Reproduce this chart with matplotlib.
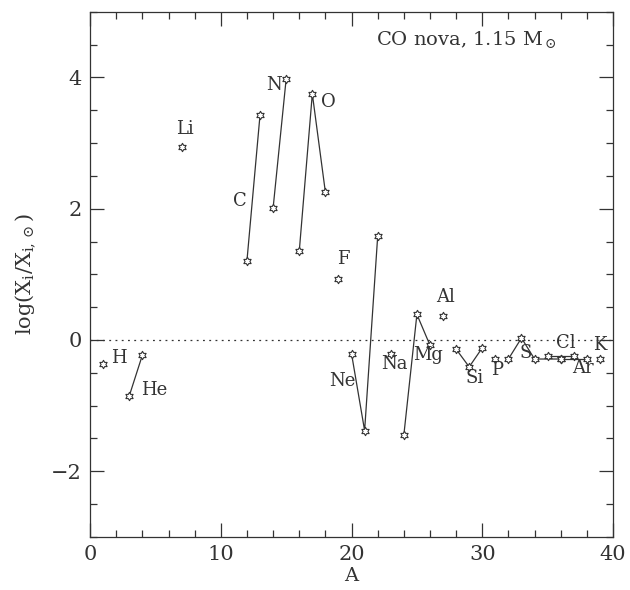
import numpy as np
import matplotlib
matplotlib.use("Agg")
import matplotlib.pyplot as plt
from matplotlib.path import Path

# ---- data (mass number A, log(X_i/X_i,sun)) ----
elements = ["H", "He", "Li", "C", "N", "O", "F", "Ne", "Na", "Mg", "Al",
            "Si", "P", "S", "Cl", "Ar", "K"]
iso_A = {
    "H": [1], "He": [3, 4], "Li": [7], "C": [12, 13], "N": [14, 15],
    "O": [16, 17, 18], "F": [19], "Ne": [20, 21, 22], "Na": [23],
    "Mg": [24, 25, 26], "Al": [27], "Si": [28, 29, 30], "P": [31],
    "S": [32, 33, 34, 36], "Cl": [35, 37], "Ar": [36, 38], "K": [39],
}
iso_val = {
    "H": [-0.37], "He": [-0.85, -0.23], "Li": [2.94], "C": [1.21, 3.43],
    "N": [2.01, 3.98], "O": [1.35, 3.75, 2.25], "F": [0.93],
    "Ne": [-0.21, -1.38, 1.58], "Na": [-0.21], "Mg": [-1.45, 0.39, -0.08],
    "Al": [0.37], "Si": [-0.14, -0.41, -0.12], "P": [-0.29],
    "S": [-0.29, 0.03, -0.29, -0.29], "Cl": [-0.24, -0.24],
    "Ar": [-0.29, -0.29], "K": [-0.29],
}
# label positions (A, y)
label_pos = {
    "H": (2.2, -0.27), "He": (4.9, -0.76), "Li": (7.25, 3.22), "C": (11.45, 2.12),
    "N": (14.05, 3.89), "O": (18.24, 3.63), "F": (19.4, 1.24), "Ne": (19.3, -0.63),
    "Na": (23.3, -0.36), "Mg": (25.85, -0.23), "Al": (27.2, 0.66), "Si": (29.4, -0.58),
    "P": (31.1, -0.45), "S": (33.3, -0.2), "Cl": (36.4, -0.05), "Ar": (37.7, -0.43),
    "K": (39.0, -0.08),
}
title_text = "CO nova, 1.15 M$_\\odot$"

plt.rcParams['font.family'] = ['DejaVu Serif']
plt.rcParams['mathtext.fontset'] = 'dejavuserif'
ink = '#333333'

# hexagram marker
ang = np.pi / 2 + np.arange(12) * np.pi / 6
rad = np.where(np.arange(12) % 2 == 0, 1.0, 0.58)
verts = np.column_stack([rad * np.cos(ang), rad * np.sin(ang)])
verts = np.vstack([verts, verts[:1]])
star = Path(verts, closed=True)

fig = plt.figure(figsize=(6.3, 5.9), dpi=100)
ax = fig.add_axes([0.143, 0.09, 0.83, 0.89])

ax.axhline(0, color=ink, lw=0.9, ls=(0, (1.5, 3.5)))

for el in elements:
    A = iso_A[el]
    v = iso_val[el]
    ax.plot(A, v, color=ink, lw=0.9, marker=star, ms=6, mfc='white',
            mec=ink, mew=0.8)
    lx, ly = label_pos[el]
    ax.text(lx, ly, el, ha='center', va='center', fontsize=13, color=ink)

ax.text(35.7, 4.58, title_text, ha='right', va='center', fontsize=14, color=ink)

ax.set_xlim(0, 40)
ax.set_ylim(-3, 5)
ax.set_xticks([0, 10, 20, 30, 40])
ax.set_xticks(np.arange(0, 41, 2), minor=True)
ax.set_yticks([-2, 0, 2, 4])
ax.set_yticks(np.arange(-3, 5.01, 0.5), minor=True)
ax.tick_params(which='both', direction='in', top=True, right=True,
               color=ink, labelcolor=ink, labelsize=15, width=0.9)
ax.tick_params(which='major', length=10, pad=6)
ax.tick_params(which='minor', length=5)
for s in ax.spines.values():
    s.set_color(ink)
    s.set_linewidth(0.9)

ax.set_xlabel('A', fontsize=14, color=ink, labelpad=2)
ax.set_ylabel('log(X$_{\\rm i}$/X$_{\\rm i,\\odot}$)', fontsize=15, color=ink, labelpad=10)

fig.savefig('out.png', dpi=100, facecolor='white')
